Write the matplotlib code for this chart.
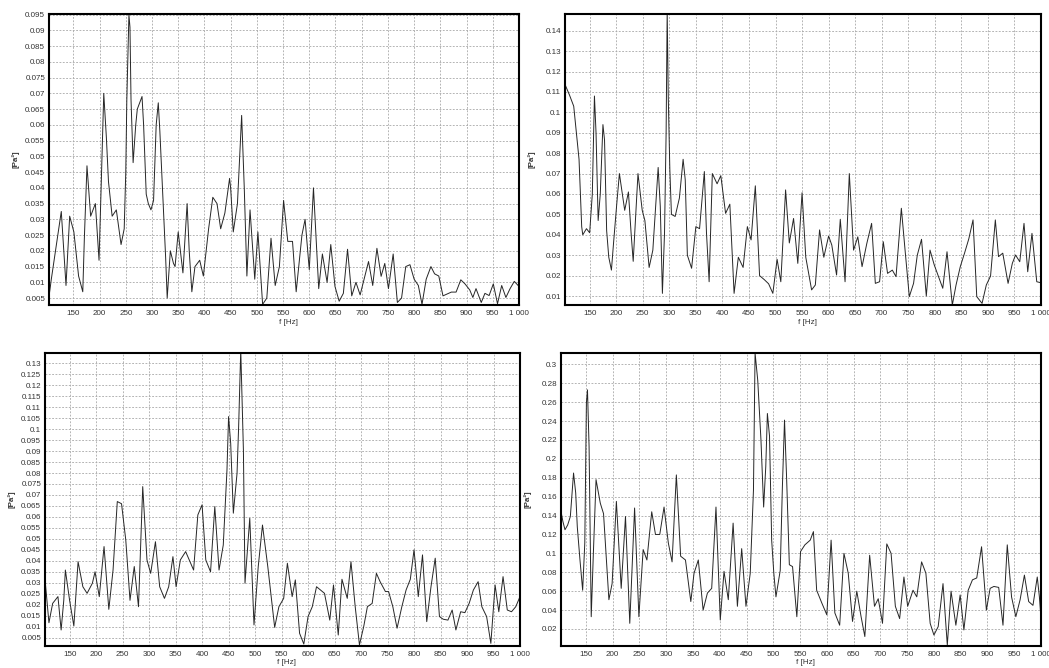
"""
plot.py
-------
Four power spectra panels (f [Hz] vs [Pa^2]) in a 2x2 layout.
"""

import matplotlib
matplotlib.use('Agg')
import matplotlib.pyplot as plt
from matplotlib.ticker import FixedLocator, FuncFormatter

# Panel 1 (top left)
freq_1 = [104, 108, 127, 136, 143, 151, 160, 168, 171, 176, 183, 192, 199, 203, 208,
          213, 217, 224, 232, 241, 247, 250, 252, 256, 258, 260, 264, 269, 272, 281,
          284, 289, 293, 298, 303, 308, 312, 315, 321, 326, 329, 335, 341, 344, 350,
          359, 367, 371, 376, 382, 391, 398, 408, 416, 424, 431, 439, 448, 450, 455,
          463, 471, 476, 481, 487, 496, 502, 511, 519, 527, 535, 543, 551, 559, 568,
          575, 586, 592, 600, 608, 618, 625, 634, 641, 649, 657, 665, 673, 681, 689,
          697, 705, 713, 721, 729, 737, 744, 751, 760, 768, 776, 784, 792, 800, 808,
          815, 823, 832, 839, 847, 855, 871, 880, 889, 897, 906, 912, 918, 928, 935,
          943, 951, 959, 967, 975, 983, 991, 1000]
psd_1 = [0.006, 0.011, 0.0325, 0.009, 0.031, 0.026, 0.012, 0.007, 0.024, 0.047, 0.031,
         0.035, 0.017, 0.040, 0.070, 0.056, 0.042, 0.031, 0.033, 0.022, 0.027, 0.045,
         0.068, 0.095, 0.091, 0.068, 0.048, 0.060, 0.065, 0.069, 0.060, 0.038, 0.035,
         0.033, 0.036, 0.060, 0.067, 0.058, 0.036, 0.018, 0.005, 0.020, 0.016, 0.015,
         0.026, 0.013, 0.035, 0.020, 0.007, 0.015, 0.017, 0.012, 0.027, 0.037, 0.035,
         0.027, 0.032, 0.043, 0.040, 0.026, 0.035, 0.063, 0.040, 0.012, 0.033, 0.011,
         0.026, 0.003, 0.005, 0.024, 0.009, 0.015, 0.036, 0.023, 0.023, 0.007, 0.025,
         0.030, 0.014, 0.040, 0.008, 0.019, 0.010, 0.022, 0.0087, 0.004, 0.0065, 0.0205,
         0.0057, 0.010, 0.006, 0.0113, 0.0166, 0.009, 0.0208, 0.0119, 0.016, 0.008,
         0.019, 0.0036, 0.005, 0.015, 0.0156, 0.011, 0.009, 0.003, 0.011, 0.015, 0.0127,
         0.012, 0.0057, 0.0069, 0.0069, 0.0108, 0.0095, 0.0076, 0.0052, 0.008, 0.0036,
         0.0065, 0.0058, 0.0095, 0.0032, 0.009, 0.0052, 0.008, 0.0103, 0.0087]

# Panel 2 (top right)
freq_2 = [103, 112, 120, 125, 130, 135, 137, 144, 150, 155, 159, 162, 166, 170, 175,
          178, 182, 186, 191, 195, 201, 206, 216, 223, 228, 232, 241, 249, 254, 262,
          269, 279, 283, 287, 291, 294, 296, 298, 301, 304, 311, 319, 326, 330, 334,
          342, 350, 357, 366, 370, 375, 381, 390, 397, 406, 414, 422, 430, 439, 447,
          454, 462, 470, 479, 487, 495, 503, 510, 519, 526, 534, 542, 550, 557, 568,
          575, 583, 591, 600, 606, 615, 622, 631, 639, 647, 655, 663, 672, 681, 688,
          696, 703, 711, 720, 727, 737, 744, 752, 760, 767, 775, 784, 791, 799, 807,
          815, 823, 833, 840, 848, 856, 864, 872, 879, 889, 897, 905, 914, 920, 928,
          938, 946, 952, 960, 968, 975, 983, 992, 1000]
psd_2 = [0.114, 0.1085, 0.103, 0.090, 0.077, 0.044, 0.040, 0.043, 0.041, 0.060, 0.108,
         0.090, 0.047, 0.060, 0.094, 0.0865, 0.042, 0.029, 0.0227, 0.036, 0.055, 0.070,
         0.052, 0.061, 0.041, 0.027, 0.070, 0.052, 0.047, 0.024, 0.0325, 0.073, 0.054,
         0.0113, 0.041, 0.090, 0.150, 0.108, 0.072, 0.050, 0.049, 0.058, 0.077, 0.067,
         0.030, 0.0236, 0.044, 0.043, 0.071, 0.041, 0.017, 0.070, 0.065, 0.069, 0.0505,
         0.055, 0.0113, 0.029, 0.024, 0.044, 0.0375, 0.064, 0.020, 0.018, 0.016, 0.0113,
         0.028, 0.017, 0.062, 0.036, 0.048, 0.026, 0.0606, 0.029, 0.013, 0.0154, 0.0424,
         0.029, 0.0394, 0.035, 0.0203, 0.0476, 0.017, 0.070, 0.0325, 0.039, 0.0244,
         0.0358, 0.0456, 0.0162, 0.017, 0.0366, 0.0211, 0.0227, 0.0195, 0.053, 0.0325,
         0.0097, 0.0162, 0.030, 0.0378, 0.010, 0.0325, 0.0252, 0.0195, 0.0138, 0.0317,
         0.0056, 0.0154, 0.0244, 0.031, 0.038, 0.0473, 0.0097, 0.0064, 0.0154, 0.0198,
         0.0473, 0.0293, 0.031, 0.0162, 0.026, 0.0301, 0.0268, 0.0456, 0.0219, 0.0407,
         0.017, 0.0165]

# Panel 3 (bottom left)
freq_3 = [102, 106, 111, 118, 128, 134, 139, 142, 150, 158, 166, 175, 183, 193, 198,
          206, 215, 224, 232, 240, 248, 256, 264, 272, 280, 288, 296, 303, 312, 320,
          329, 337, 345, 351, 359, 369, 384, 392, 400, 407, 416, 424, 432, 440, 447,
          450, 454, 459, 466, 469, 473, 478, 481, 490, 498, 506, 514, 524, 537, 545,
          554, 561, 570, 576, 584, 592, 600, 608, 616, 631, 641, 648, 657, 664, 674,
          681, 689, 697, 705, 712, 721, 729, 736, 746, 752, 760, 768, 777, 785, 793,
          800, 803, 808, 816, 824, 832, 840, 848, 855, 864, 872, 879, 888, 896, 904,
          912, 921, 928, 937, 945, 953, 960, 968, 976, 984, 992, 1000]
psd_3 = [0.0358, 0.0252, 0.0118, 0.0206, 0.0237, 0.0085, 0.022, 0.0358, 0.022, 0.0103,
         0.0396, 0.0282, 0.0252, 0.0298, 0.035, 0.0237, 0.0465, 0.0179, 0.0358, 0.067,
         0.066, 0.0495, 0.022, 0.0374, 0.0191, 0.0738, 0.0404, 0.0343, 0.0487, 0.0282,
         0.0229, 0.0282, 0.0419, 0.0282, 0.0404, 0.0442, 0.0358, 0.0609, 0.0655, 0.0404,
         0.035, 0.0647, 0.0358, 0.0472, 0.0814, 0.1057, 0.0935, 0.0617, 0.0799, 0.1011,
         0.136, 0.0905, 0.0298, 0.0594, 0.0108, 0.0374, 0.0563, 0.0374, 0.0097, 0.0191,
         0.0229, 0.0389, 0.0237, 0.0313, 0.007, 0.0021, 0.0146, 0.0191, 0.0282, 0.0252,
         0.013, 0.029, 0.0062, 0.0316, 0.0229, 0.0396, 0.0191, 0.0017, 0.010, 0.0191,
         0.0206, 0.0343, 0.0305, 0.026, 0.026, 0.0191, 0.0093, 0.0191, 0.0267, 0.0316,
         0.045, 0.0374, 0.0237, 0.0427, 0.0123, 0.0282, 0.0412, 0.0146, 0.0134, 0.013,
         0.0176, 0.0085, 0.0168, 0.0164, 0.0206, 0.0267, 0.0305, 0.0191, 0.0146, 0.0024,
         0.029, 0.0168, 0.0328, 0.0176, 0.0168, 0.0191, 0.0237]

# Panel 4 (bottom right)
freq_4 = [103, 107, 111, 116, 121, 127, 131, 134, 139, 144, 148, 151, 153, 156, 160,
          164, 169, 177, 183, 193, 199, 207, 216, 224, 232, 241, 249, 257, 264, 273,
          280, 288, 296, 304, 311, 319, 327, 336, 346, 352, 360, 369, 377, 385, 393,
          401, 408, 416, 425, 433, 441, 449, 457, 463, 466, 471, 477, 482, 486, 489,
          493, 497, 501, 505, 513, 517, 521, 525, 530, 536, 544, 551, 559, 569, 575,
          581, 591, 600, 608, 615, 624, 632, 640, 648, 656, 664, 671, 680, 689, 696,
          704, 712, 720, 728, 736, 744, 751, 761, 768, 777, 785, 793, 800, 808, 817,
          825, 832, 841, 849, 856, 864, 872, 880, 889, 898, 905, 912, 921, 929, 937,
          945, 953, 961, 969, 977, 985, 993, 997, 1000]
psd_4 = [0.146, 0.134, 0.125, 0.130, 0.139, 0.185, 0.164, 0.128, 0.093, 0.061, 0.111,
         0.259, 0.273, 0.213, 0.033, 0.100, 0.178, 0.153, 0.142, 0.051, 0.068, 0.155,
         0.063, 0.139, 0.026, 0.148, 0.033, 0.104, 0.093, 0.144, 0.120, 0.120, 0.149,
         0.111, 0.091, 0.183, 0.097, 0.093, 0.049, 0.079, 0.093, 0.040, 0.058, 0.063,
         0.149, 0.0295, 0.081, 0.051, 0.132, 0.044, 0.105, 0.044, 0.079, 0.167, 0.312,
         0.283, 0.220, 0.149, 0.192, 0.248, 0.224, 0.114, 0.079, 0.054, 0.082, 0.170,
         0.241, 0.178, 0.088, 0.086, 0.033, 0.102, 0.109, 0.114, 0.123, 0.061, 0.047,
         0.035, 0.114, 0.037, 0.024, 0.100, 0.079, 0.028, 0.060, 0.033, 0.012, 0.098,
         0.044, 0.052, 0.026, 0.110, 0.100, 0.044, 0.031, 0.075, 0.044, 0.061, 0.054,
         0.091, 0.079, 0.026, 0.0136, 0.0225, 0.068, 0.003, 0.060, 0.024, 0.056, 0.019,
         0.061, 0.072, 0.074, 0.107, 0.040, 0.063, 0.065, 0.064, 0.024, 0.109, 0.054,
         0.033, 0.051, 0.077, 0.049, 0.045, 0.075, 0.054, 0.031]

x_ticks = list(range(150, 1001, 50))
y_ticks_1 = [i * 0.005 for i in range(1, 20)]
y_ticks_2 = [i * 0.01 for i in range(1, 15)]
y_ticks_3 = [i * 0.005 for i in range(1, 27)]
y_ticks_4 = [i * 0.02 for i in range(1, 16)]

# y-limits as seen in the reference (tight around data)
y_lims = [(0.0028, 0.0952), (0.0056, 0.1482), (0.0012, 0.1348), (0.002, 0.3123)]

W, H = 1049, 668

# axes boxes in pixels: left, top, right, bottom
boxes = [(48.7, 14, 519, 305), (564.7, 14, 1041, 305),
         (44.7, 352.7, 520, 646), (560.7, 352.7, 1041, 646)]

FONT = ['Liberation Sans', 'DejaVu Sans']
FS = 5.8


def fmt_x(v, pos):
    v = int(round(v))
    return '1 000' if v == 1000 else str(v)


def fmt_y(v, pos):
    return '{:g}'.format(round(v, 4))


def draw_panel(fig, box, freq, psd, yticks, ylim):
    l, t, r, b = box
    ax = fig.add_axes([l / W, 1 - b / H, (r - l) / W, (b - t) / H])
    ax.plot(freq, psd, color='#262626', lw=0.7)
    ax.set_xlim(103, 1000)
    ax.set_ylim(*ylim)

    ax.xaxis.set_major_locator(FixedLocator(x_ticks))
    ax.yaxis.set_major_locator(FixedLocator(yticks))
    ax.xaxis.set_major_formatter(FuncFormatter(fmt_x))
    ax.yaxis.set_major_formatter(FuncFormatter(fmt_y))
    ax.tick_params(length=0, labelsize=FS, colors='#333333')
    ax.tick_params(axis='x', pad=3.5)
    ax.tick_params(axis='y', pad=2.5)
    for lab in ax.get_xticklabels() + ax.get_yticklabels():
        lab.set_family(FONT)

    # light dashed grid
    ax.grid(True, color='#a8a8a8', lw=0.6, linestyle=(0, (2.2, 1.8)))
    ax.set_axisbelow(True)
    for sp in ax.spines.values():
        sp.set_linewidth(1.5)
        sp.set_color('black')

    # axis titles
    fig.text((l + r) / 2 / W + 0.004, 1 - (b + 17) / H, 'f [Hz]', ha='center',
             va='center', fontsize=FS, family=FONT, color='#333333')
    fig.text((l - 33) / W, 1 - (t + b) / 2 / H, '[Pa²]', ha='center', va='center',
             rotation=90, fontsize=FS, family=FONT, color='#333333',
             fontweight='bold')
    return ax


def main():
    fig = plt.figure(figsize=(W / 100, H / 100), dpi=100)
    fig.patch.set_facecolor('white')

    panels = [(freq_1, psd_1, y_ticks_1), (freq_2, psd_2, y_ticks_2),
              (freq_3, psd_3, y_ticks_3), (freq_4, psd_4, y_ticks_4)]
    for box, (freq, psd, yt), ylim in zip(boxes, panels, y_lims):
        draw_panel(fig, box, freq, psd, yt, ylim)

    fig.savefig('out.png', dpi=100)
    print('[OK] Saved: out.png')


if __name__ == '__main__':
    main()
